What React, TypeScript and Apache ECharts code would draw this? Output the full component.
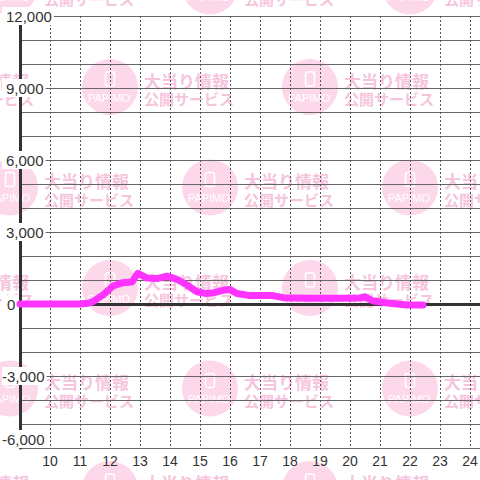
import React, { useEffect, useRef } from "react";
import * as echarts from "echarts";

// ---- data (hours of day, value) ----
const hours = [9, 11, 11.27, 11.43, 11.77, 12.1, 12.43, 12.73, 12.93, 13.23, 13.57, 13.9, 14.23, 14.57, 14.9, 15.17, 15.43, 15.77, 16.0, 16.23, 16.67, 17.43, 17.77, 18.57, 19.67, 20.33, 20.5, 20.77, 21.33, 21.9, 22.43];
const values = [0, 0, 30, 100, 380, 750, 890, 920, 1280, 1080, 1060, 1160, 1030, 790, 510, 440, 460, 570, 600, 440, 350, 350, 265, 236, 236, 250, 300, 125, 30, -40, -40];

const xMin = 9;
const xMax = 24 + 1 / 3;
const yMin = -6000;
const yMax = 12000;
const gridStep = 1000;
const labelStep = 3000;

const wmLine1 = "大当り情報";
const wmLine2 = "公開サービス";
const wmLogo = "PAPIMO";

// watermark layout (pixel pattern)
const wmRowsA = [87, 288, 489];
const wmColsA = [-90, 110, 310];
const wmRowsB = [-13.5, 187.5, 388.5];
const wmColsB = [10, 210, 410];

const FONT = "'Liberation Sans', Arial, Helvetica, sans-serif";
const CJK = "'Noto Sans CJK JP', 'Noto Sans', sans-serif";

function watermark(cx: number, cy: number): any[] {
  return [
    { type: "circle", z: 0, silent: true, shape: { cx, cy, r: 28 }, style: { fill: "#fdd8eb" } },
    {
      type: "rect", z: 0, silent: true,
      shape: { x: cx - 4.5, y: cy - 15, width: 9, height: 14, r: 2 },
      style: { fill: "none", stroke: "#ffffff", lineWidth: 1.5 },
    },
    {
      type: "text", z: 0, silent: true,
      style: { text: wmLogo, x: cx - 1, y: cy + 10.5, align: "center", verticalAlign: "middle", fill: "#ffffff", fontSize: 11, fontWeight: "normal", fontFamily: FONT },
    },
    {
      type: "text", z: 0, silent: true,
      style: { text: wmLine1, x: cx + 34, y: cy - 7, align: "left", verticalAlign: "middle", fill: "#f6c5dd", fontSize: 17, fontWeight: "bold", fontFamily: CJK },
    },
    {
      type: "text", z: 0, silent: true,
      style: { text: wmLine2, x: cx + 34, y: cy + 11.5, align: "left", verticalAlign: "middle", fill: "#f6c5dd", fontSize: 15, fontWeight: "bold", fontFamily: CJK },
    },
  ];
}

function buildWatermarks(): any[] {
  const els: any[] = [];
  wmRowsA.forEach((cy) => wmColsA.forEach((cx) => els.push(...watermark(cx, cy))));
  wmRowsB.forEach((cy) => wmColsB.forEach((cx) => els.push(...watermark(cx, cy))));
  return els;
}

function fmtY(v: number): string {
  const s = Math.abs(v).toLocaleString("en-US");
  if (v < 0) return "{n|-" + s + "}";
  if (v === 0) return "{z|0}";
  return "{p|" + s + "}";
}

export default function App() {
  const ref = useRef<HTMLDivElement>(null);

  useEffect(() => {
    if (!ref.current) return;
    const chart = echarts.init(ref.current, undefined, { renderer: "svg" });
    const labelText = { fontSize: 15, color: "#333", fontFamily: FONT };
    const option: any = {
      animation: false,
      backgroundColor: "#ffffff",
      graphic: { elements: buildWatermarks() },
      grid: { left: 20, right: 0, top: 16, bottom: 32, containLabel: false, outerBoundsMode: "none" },
      xAxis: [
        {
          type: "value", min: xMin, max: xMax, interval: 1, position: "bottom", z: 1,
          axisLine: { show: false, onZero: false },
          axisTick: { show: false },
          axisLabel: {
            show: true, showMinLabel: false, showMaxLabel: false, margin: 6,
            fontSize: 14, color: "#333", fontFamily: FONT,
            formatter: (v: number) => String(v),
          },
          splitLine: { show: true, lineStyle: { color: "#555", width: 1, type: [2, 2] } },
        },
        {
          type: "value", min: xMin, max: xMax, interval: 1, position: "bottom", z: 2,
          axisLine: { show: true, onZero: true, onZeroAxisIndex: 0, lineStyle: { color: "#333", width: 3 } },
          axisTick: { show: false },
          axisLabel: { show: false },
          splitLine: { show: false },
        },
      ],
      yAxis: [
        {
          type: "value", min: yMin, max: yMax, interval: gridStep, position: "left", z: 1,
          axisLine: { show: true, onZero: false, lineStyle: { color: "#333", width: 3 } },
          axisTick: { show: false },
          axisLabel: { show: false },
          splitLine: { show: true, lineStyle: { color: "#666", width: 1, type: "solid" } },
        },
        {
          type: "value", min: yMin, max: yMax, interval: labelStep, position: "left", z: 3,
          axisLine: { show: false, onZero: false },
          axisTick: { show: false },
          splitLine: { show: false },
          axisLabel: {
            show: true, align: "left", margin: 18,
            verticalAlignMinLabel: "bottom",
            ...labelText,
            lineHeight: 16,
            backgroundColor: "#ffffff",
            padding: [1, 2, 1, 0],
            formatter: fmtY,
            rich: {
              p: { ...labelText, lineHeight: 16, padding: [0, 0, 0, 4] },
              z: { ...labelText, lineHeight: 16, padding: [0, 0, 0, 5] },
              n: { ...labelText, lineHeight: 16, padding: [0, 0, 0, 0] },
            },
          },
        },
      ],
      series: [
        {
          type: "line",
          xAxisIndex: 0,
          yAxisIndex: 0,
          z: 5,
          data: hours.map((h, i) => [h, values[i]]),
          showSymbol: false,
          symbol: "none",
          lineStyle: { color: "#ff33ff", width: 7, cap: "round", join: "round" },
          silent: true,
        },
      ],
    };
    chart.setOption(option);
    return () => chart.dispose();
  }, []);

  return (
    <div
      ref={ref}
      style={{ position: "fixed", left: 0, top: 0, width: 480, height: 480, background: "#fff" }}
    />
  );
}
